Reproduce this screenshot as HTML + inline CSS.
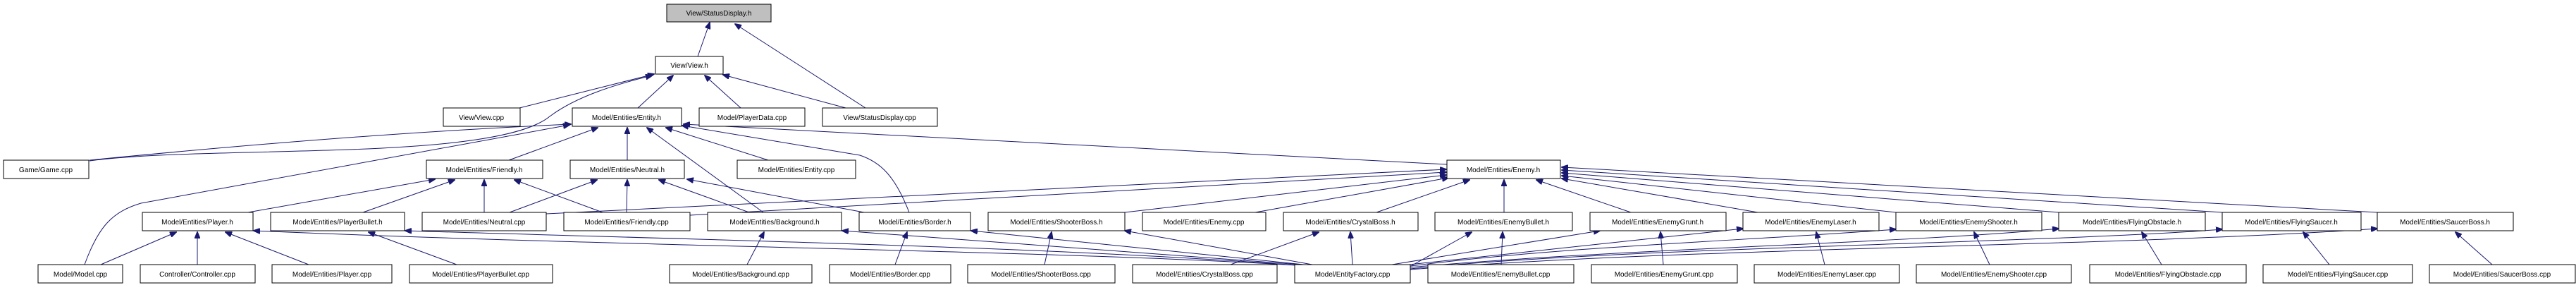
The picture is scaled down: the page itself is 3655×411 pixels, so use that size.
<!DOCTYPE html>
<html><head><meta charset="utf-8"><style>
html,body{margin:0;padding:0;background:#fff;}
svg{display:block;}
text{font-family:"Liberation Sans",sans-serif;font-size:10px;fill:#000;}
.n{fill:#fff;stroke:#000;stroke-width:1;}
.e{fill:none;stroke:#191970;stroke-width:1;}
</style></head><body>
<svg width="3655" height="411" viewBox="0 0 3655 411" xmlns="http://www.w3.org/2000/svg">
<defs><marker id="a" markerWidth="10" markerHeight="8" refX="9" refY="4" orient="auto" markerUnits="userSpaceOnUse"><path d="M0,0 L10,4 L0,8 z" fill="#191970" stroke="#191970"/></marker></defs>
<g marker-end="url(#a)">
<path class="e" d="M990,80 L1007,32"/>
<path class="e" d="M1228,153 L1043,34"/>
<path class="e" d="M737,153 L928,105"/>
<path class="e" d="M905,153 L955,107"/>
<path class="e" d="M1051,153 L1000,107"/>
<path class="e" d="M1200,153 L1026,106"/>
<path class="e" d="M127,228 C300,205 700,230 780,165 C820,135 880,118 925,107"/>
<path class="e" d="M127,227 Q500,190 810,176"/>
<path class="e" d="M120,375 C140,320 160,300 200,288 L808,177"/>
<path class="e" d="M722,227 L848,181"/>
<path class="e" d="M890,227 L890,181"/>
<path class="e" d="M1090,227 L945,181"/>
<path class="e" d="M1083,301 L918,181"/>
<path class="e" d="M1290,301 C1270,250 1250,230 1220,220 L968,178"/>
<path class="e" d="M2053,233 L970,176"/>
<path class="e" d="M352,301 L617,254"/>
<path class="e" d="M515,301 L645,255"/>
<path class="e" d="M687,301 L687,255"/>
<path class="e" d="M855,301 L730,255"/>
<path class="e" d="M723,301 L847,255"/>
<path class="e" d="M889,301 L890,255"/>
<path class="e" d="M1063,301 L935,255"/>
<path class="e" d="M1226,301 L975,254"/>
<path class="e" d="M775,303 L2052,240"/>
<path class="e" d="M979,305 L2052,244"/>
<path class="e" d="M1596,301 L2052,248"/>
<path class="e" d="M1781,301 L2055,252"/>
<path class="e" d="M1953,301 L2085,255"/>
<path class="e" d="M2134,301 L2134,255"/>
<path class="e" d="M2314,301 L2180,255"/>
<path class="e" d="M2494,301 L2216,253"/>
<path class="e" d="M2690,301 L2216,249"/>
<path class="e" d="M2921,301 L2216,245"/>
<path class="e" d="M3153,301 L2216,241"/>
<path class="e" d="M3373,301 L2216,237"/>
<path class="e" d="M143,375 L250,329"/>
<path class="e" d="M280,375 L280,329"/>
<path class="e" d="M438,375 L320,329"/>
<path class="e" d="M648,375 L523,329"/>
<path class="e" d="M1060,375 L1084,329"/>
<path class="e" d="M1270,375 L1287,329"/>
<path class="e" d="M1482,375 L1492,329"/>
<path class="e" d="M1746,375 L1871,329"/>
<path class="e" d="M1919,375 L1916,329"/>
<path class="e" d="M2130,375 L2132,329"/>
<path class="e" d="M2000,378 L2088,329"/>
<path class="e" d="M2360,375 L2356,329"/>
<path class="e" d="M2589,375 L2577,329"/>
<path class="e" d="M2823,375 L2801,329"/>
<path class="e" d="M3067,375 L3039,329"/>
<path class="e" d="M3305,375 L3268,329"/>
<path class="e" d="M3536,375 L3484,329"/>
<path class="e" d="M1840,376 C1500,355 900,350 360,327"/>
<path class="e" d="M1842,376 C1500,350 1000,340 575,327"/>
<path class="e" d="M1845,375 L1195,327"/>
<path class="e" d="M1850,375 L1378,327"/>
<path class="e" d="M1862,375 L1596,327"/>
<path class="e" d="M1975,375 L2270,327"/>
<path class="e" d="M1990,376 L2473,324"/>
<path class="e" d="M1995,378 C2200,350 2500,340 2690,325"/>
<path class="e" d="M2000,379 C2300,352 2700,345 2921,324"/>
<path class="e" d="M2001,381 C2300,350 2900,345 3153,325"/>
<path class="e" d="M2001,382 C2400,350 3000,350 3373,324"/>
</g>
<g>
<rect x="946" y="6" width="148" height="25" fill="#bfbfbf" stroke="#000"/><text x="1020" y="22" text-anchor="middle">View/StatusDisplay.h</text>
<rect class="n" x="930" y="80" width="96" height="25"/><text x="978" y="96" text-anchor="middle">View/View.h</text>
<rect class="n" x="629" y="153" width="109" height="26"/><text x="683" y="170" text-anchor="middle">View/View.cpp</text>
<rect class="n" x="812" y="153" width="155" height="26"/><text x="889" y="170" text-anchor="middle">Model/Entities/Entity.h</text>
<rect class="n" x="992" y="153" width="150" height="26"/><text x="1067" y="170" text-anchor="middle">Model/PlayerData.cpp</text>
<rect class="n" x="1167" y="153" width="163" height="26"/><text x="1248" y="170" text-anchor="middle">View/StatusDisplay.cpp</text>
<rect class="n" x="5" y="227" width="121" height="26"/><text x="65" y="244" text-anchor="middle">Game/Game.cpp</text>
<rect class="n" x="605" y="227" width="165" height="26"/><text x="687" y="244" text-anchor="middle">Model/Entities/Friendly.h</text>
<rect class="n" x="809" y="227" width="162" height="26"/><text x="890" y="244" text-anchor="middle">Model/Entities/Neutral.h</text>
<rect class="n" x="1046" y="227" width="168" height="26"/><text x="1130" y="244" text-anchor="middle">Model/Entities/Entity.cpp</text>
<rect class="n" x="2053" y="227" width="161" height="26"/><text x="2133" y="244" text-anchor="middle">Model/Entities/Enemy.h</text>
<rect class="n" x="202" y="301" width="157" height="26"/><text x="280" y="318" text-anchor="middle">Model/Entities/Player.h</text>
<rect class="n" x="384" y="301" width="190" height="26"/><text x="479" y="318" text-anchor="middle">Model/Entities/PlayerBullet.h</text>
<rect class="n" x="599" y="301" width="176" height="26"/><text x="687" y="318" text-anchor="middle">Model/Entities/Neutral.cpp</text>
<rect class="n" x="800" y="301" width="179" height="26"/><text x="889" y="318" text-anchor="middle">Model/Entities/Friendly.cpp</text>
<rect class="n" x="1004" y="301" width="190" height="26"/><text x="1099" y="318" text-anchor="middle">Model/Entities/Background.h</text>
<rect class="n" x="1219" y="301" width="158" height="26"/><text x="1298" y="318" text-anchor="middle">Model/Entities/Border.h</text>
<rect class="n" x="1402" y="301" width="194" height="26"/><text x="1499" y="318" text-anchor="middle">Model/Entities/ShooterBoss.h</text>
<rect class="n" x="1621" y="301" width="175" height="26"/><text x="1708" y="318" text-anchor="middle">Model/Entities/Enemy.cpp</text>
<rect class="n" x="1821" y="301" width="191" height="26"/><text x="1916" y="318" text-anchor="middle">Model/Entities/CrystalBoss.h</text>
<rect class="n" x="2036" y="301" width="195" height="26"/><text x="2133" y="318" text-anchor="middle">Model/Entities/EnemyBullet.h</text>
<rect class="n" x="2256" y="301" width="193" height="26"/><text x="2352" y="318" text-anchor="middle">Model/Entities/EnemyGrunt.h</text>
<rect class="n" x="2473" y="301" width="193" height="26"/><text x="2569" y="318" text-anchor="middle">Model/Entities/EnemyLaser.h</text>
<rect class="n" x="2690" y="301" width="207" height="26"/><text x="2793" y="318" text-anchor="middle">Model/Entities/EnemyShooter.h</text>
<rect class="n" x="2921" y="301" width="208" height="26"/><text x="3025" y="318" text-anchor="middle">Model/Entities/FlyingObstacle.h</text>
<rect class="n" x="3153" y="301" width="197" height="26"/><text x="3251" y="318" text-anchor="middle">Model/Entities/FlyingSaucer.h</text>
<rect class="n" x="3373" y="301" width="193" height="26"/><text x="3469" y="318" text-anchor="middle">Model/Entities/SaucerBoss.h</text>
<rect class="n" x="54" y="375" width="120" height="26"/><text x="114" y="392" text-anchor="middle">Model/Model.cpp</text>
<rect class="n" x="199" y="375" width="163" height="26"/><text x="280" y="392" text-anchor="middle">Controller/Controller.cpp</text>
<rect class="n" x="386" y="375" width="170" height="26"/><text x="471" y="392" text-anchor="middle">Model/Entities/Player.cpp</text>
<rect class="n" x="581" y="375" width="203" height="26"/><text x="682" y="392" text-anchor="middle">Model/Entities/PlayerBullet.cpp</text>
<rect class="n" x="950" y="375" width="202" height="26"/><text x="1051" y="392" text-anchor="middle">Model/Entities/Background.cpp</text>
<rect class="n" x="1177" y="375" width="172" height="26"/><text x="1263" y="392" text-anchor="middle">Model/Entities/Border.cpp</text>
<rect class="n" x="1373" y="375" width="209" height="26"/><text x="1477" y="392" text-anchor="middle">Model/Entities/ShooterBoss.cpp</text>
<rect class="n" x="1607" y="375" width="205" height="26"/><text x="1709" y="392" text-anchor="middle">Model/Entities/CrystalBoss.cpp</text>
<rect class="n" x="1837" y="375" width="164" height="26"/><text x="1919" y="392" text-anchor="middle">Model/EntityFactory.cpp</text>
<rect class="n" x="2026" y="375" width="207" height="26"/><text x="2129" y="392" text-anchor="middle">Model/Entities/EnemyBullet.cpp</text>
<rect class="n" x="2258" y="375" width="207" height="26"/><text x="2361" y="392" text-anchor="middle">Model/Entities/EnemyGrunt.cpp</text>
<rect class="n" x="2489" y="375" width="206" height="26"/><text x="2592" y="392" text-anchor="middle">Model/Entities/EnemyLaser.cpp</text>
<rect class="n" x="2719" y="375" width="220" height="26"/><text x="2829" y="392" text-anchor="middle">Model/Entities/EnemyShooter.cpp</text>
<rect class="n" x="2965" y="375" width="222" height="26"/><text x="3076" y="392" text-anchor="middle">Model/Entities/FlyingObstacle.cpp</text>
<rect class="n" x="3211" y="375" width="212" height="26"/><text x="3317" y="392" text-anchor="middle">Model/Entities/FlyingSaucer.cpp</text>
<rect class="n" x="3447" y="375" width="207" height="26"/><text x="3550" y="392" text-anchor="middle">Model/Entities/SaucerBoss.cpp</text>
</g>
</svg>
</body></html>
